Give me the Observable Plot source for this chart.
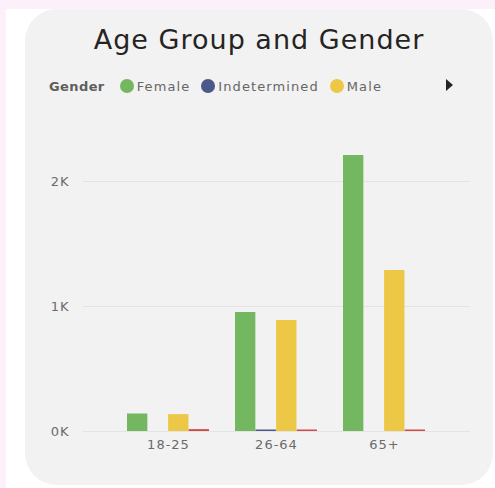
<!DOCTYPE html>
<html>
<head>
<meta charset="utf-8">
<script src="https://cdn.jsdelivr.net/npm/d3@7"></script>
<script src="https://cdn.jsdelivr.net/npm/@observablehq/plot@0.6"></script>
<style>
  html, body { margin: 0; padding: 0; }
  body { width: 495px; height: 488px; background: #fcf0fb; position: relative; overflow: hidden; font-family: "DejaVu Sans", sans-serif; }
  #white { position: absolute; left: 6px; top: 9px; right: 0; bottom: 0; background: #ffffff; }
  #card { position: absolute; left: 25px; top: 9px; width: 468px; height: 476px; background: #f2f2f2; border-radius: 32px; overflow: hidden; }
  #title { position: absolute; left: 0; width: 100%; top: 18px; line-height: 26px; text-align: center; font-size: 27px; letter-spacing: 1px; color: #252423; }
  #legend { position: absolute; left: 24px; top: 70px; height: 14px; font-size: 13px; letter-spacing: 1.1px; color: #666666; display: flex; align-items: center; white-space: nowrap; }
  #legend .lab { font-weight: bold; letter-spacing: 0.4px; margin-right: 15px; color: #605e5c; }
  #legend .item { display: flex; align-items: center; margin-right: 11px; }
  #legend .dot { width: 14px; height: 14px; border-radius: 50%; margin-right: 3px; }
  #arrow { position: absolute; left: 421px; top: 70px; width: 0; height: 0; border-top: 6px solid transparent; border-bottom: 6px solid transparent; border-left: 7px solid #252423; }
  #chart { position: absolute; left: 0; top: 110px; }
</style>
</head>
<body>
<div id="white"></div>
<div id="card">
  <div id="title">Age Group and Gender</div>
  <div id="legend"></div>
  <div id="arrow"></div>
  <div id="chart"></div>
</div>
<script>
const groups = ["18-25", "26-64", "65+"];
const genders = ["Female", "Indetermined", "Male", "Unknown"];
const legendGenders = ["Female", "Indetermined", "Male"];
const colors = ["#73b761", "#4a588a", "#ecc846", "#cd4c46"];
const female = [140, 952, 2208];
const indetermined = [0, 12, 0];
const male = [135, 888, 1288];
const unknown = [15, 12, 12];
const yTicks = [0, 1000, 2000];

const seriesValues = [female, indetermined, male, unknown];
const data = [];
genders.forEach((g, i) => groups.forEach((grp, j) => data.push({group: grp, gender: g, value: seriesValues[i][j]})));

// legend
const legend = document.getElementById("legend");
legend.innerHTML = `<span class="lab">Gender</span>` + legendGenders.map((g, i) =>
  `<span class="item"><span class="dot" style="background:${colors[i]}"></span>${g}</span>`).join("");

const bw = 82.2; // approximate band width for inner bar splitting
const marks = [
  Plot.ruleY(yTicks, {stroke: "#e3e3e3", strokeWidth: 1})
];
genders.forEach((g, i) => {
  marks.push(Plot.barY(data.filter(d => d.gender === g), {
    x: "group", y: "value", fill: colors[i],
    insetLeft: i * bw / 4, insetRight: (3 - i) * bw / 4
  }));
});

const plot = Plot.plot({
  width: 468,
  height: 366,
  marginLeft: 58,
  marginRight: 23,
  marginTop: 12,
  marginBottom: 54,
  style: {background: "transparent", fontFamily: "'DejaVu Sans', sans-serif", fontSize: "13px", letterSpacing: "1px", color: "#6b6b6b"},
  x: {domain: groups, paddingInner: 0.24, paddingOuter: 0.41, tickSize: 0, tickPadding: 8, label: null},
  y: {domain: [0, 2400], ticks: yTicks, tickFormat: d => (d / 1000) + "K", tickSize: 0, tickPadding: 14, label: null},
  marks
});
document.getElementById("chart").appendChild(plot);
</script>
</body>
</html>
